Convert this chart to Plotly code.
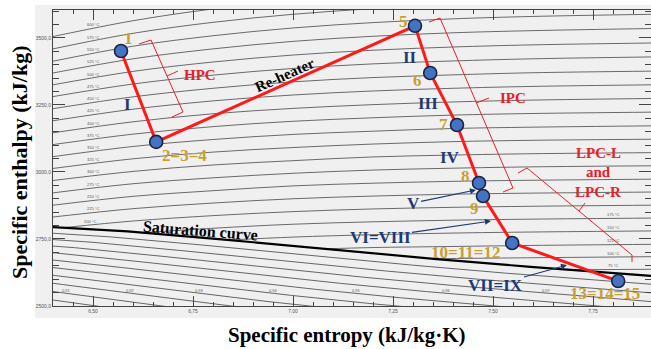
import numpy as np
import plotly.graph_objects as go

# ---------------- data ----------------
STATE_NAMES = ["1", "2=3=4", "5", "6", "7", "8", "9", "10=11=12", "13=14=15"]
STATE_S = [6.570, 6.658, 7.305, 7.343, 7.410, 7.465, 7.475, 7.548, 7.813]
STATE_H = [3451, 3112, 3545, 3369, 3175, 2959, 2910, 2735, 2593]

# saturation table (pressure MPa, hf, hfg, sf, sfg)
SAT_P = [2.0, 1.0, 0.5, 0.2, 0.1, 0.05, 0.02, 0.01]
SAT_HF = [908.8, 762.8, 640.2, 504.7, 417.5, 340.5, 251.4, 191.8]
SAT_HFG = [1890.7, 2015.3, 2108.5, 2201.9, 2257.5, 2305.4, 2358.3, 2392.8]
SAT_SF = [2.4474, 2.1387, 1.8607, 1.5301, 1.3028, 1.0910, 0.8320, 0.6493]
SAT_SFG = [3.8935, 4.4478, 4.9606, 5.5970, 6.0562, 6.5029, 7.0766, 7.5009]
QUALITIES = [0.90, 0.91, 0.92, 0.93, 0.94, 0.95, 0.96, 0.97, 0.98, 0.99]

# isotherms: enthalpy at entropy stations
ISO_S = [6.40, 6.60, 6.80, 7.00, 7.20, 7.40, 7.60, 7.90]
ISO_T = [600, 575, 550, 525, 500, 475, 450, 425, 400, 375, 350, 325,
         300, 275, 250, 225, 200, 175, 150, 125, 100, 75]
ISO_H = [
    [3505, 3564, 3608, 3639, 3661, 3677, 3687, 3697],
    [3459, 3517, 3558, 3588, 3609, 3624, 3634, 3643],
    [3413, 3469, 3508, 3537, 3557, 3571, 3580, 3588],
    [3369, 3422, 3459, 3487, 3506, 3519, 3527, 3535],
    [3325, 3375, 3410, 3436, 3454, 3466, 3474, 3481],
    [3281, 3328, 3361, 3386, 3403, 3414, 3422, 3429],
    [3236, 3280, 3312, 3336, 3352, 3362, 3370, 3376],
    [3191, 3234, 3265, 3287, 3302, 3312, 3319, 3325],
    [3146, 3187, 3217, 3237, 3251, 3261, 3268, 3274],
    [3102, 3141, 3169, 3189, 3202, 3212, 3218, 3223],
    [3057, 3095, 3121, 3140, 3152, 3162, 3167, 3172],
    [3013, 3049, 3074, 3091, 3104, 3113, 3118, 3122],
    [2968, 3002, 3026, 3042, 3056, 3063, 3068, 3072],
    [2922, 2956, 2978, 2995, 3007, 3014, 3019, 3023],
    [2876, 2909, 2930, 2948, 2958, 2965, 2969, 2973],
    [2832, 2863, 2884, 2900, 2910, 2917, 2921, 2925],
    [None, 2817, 2837, 2852, 2862, 2868, 2872, 2876],
    [None, None, 2790, 2805, 2814, 2820, 2824, 2828],
    [None, None, None, 2757, 2766, 2772, 2776, 2780],
    [None, None, None, None, 2718, 2722, 2726, 2730],
    [None, None, None, None, None, 2677, 2680, 2684],
    [None, None, None, None, None, None, None, 2637],
]
ISO_START_S = [None] * 16 + [6.432, 6.624, 6.838, 7.078, 7.355, 7.683]
ISO_START_H = [None] * 16 + [2793, 2773, 2746, 2713, 2676, 2635]

# ---------------- layout constants ----------------
X0, X1 = 6.40, 7.895
Y0, Y1 = 2500, 3604
PL, PT, PW, PH = 53, 10, 598, 296
W, H = 651, 349


def sx(px):
    return X0 + (px - PL) / PW * (X1 - X0)


def hy(py):
    return Y0 + (PT + PH - py) / PH * (Y1 - Y0)


GOLD = "#c9a030"
NAVY = "#1f3a70"
RED = "#e8202a"
SERIF = "Liberation Serif"

fig = go.Figure()

# quality lines
hf = np.array(SAT_HF); hfg = np.array(SAT_HFG)
sf = np.array(SAT_SF); sfg = np.array(SAT_SFG)
for q in QUALITIES:
    qs = sf + q * sfg
    qh = hf + q * hfg
    fig.add_trace(go.Scatter(x=qs, y=qh, mode="lines",
                             line=dict(color="#555555", width=0.9),
                             hoverinfo="skip", showlegend=False))
    lvl = 2547
    s_lab = float(np.interp(lvl, qh[::-1], qs[::-1]))
    if X0 + 0.01 < s_lab < X1 - 0.02:
        fig.add_annotation(x=s_lab, y=lvl, text=f"{q:.2f}".replace(".", ","),
                           showarrow=False, yshift=3,
                           font=dict(family="Liberation Sans", size=4, color="#555"))

# isotherms
for T, hs, s0, h0 in zip(ISO_T, ISO_H, ISO_START_S, ISO_START_H):
    xs, ys = [], []
    if s0 is not None:
        xs.append(s0); ys.append(h0)
    for s, h in zip(ISO_S, hs):
        if h is not None:
            xs.append(s); ys.append(h)
    fig.add_trace(go.Scatter(x=xs, y=ys, mode="lines", line_shape="spline",
                             line=dict(color="#5a5a5a", width=0.9),
                             hoverinfo="skip", showlegend=False))
    if s0 is None:
        s_lab = 6.50
    elif s0 < 6.5:
        s_lab = s0 + 0.06
    else:
        s_lab = 7.80
    h_lab = float(np.interp(s_lab, xs, ys))
    if h_lab < Y1 - 10:
        fig.add_annotation(x=s_lab, y=h_lab, text=f"{T} °C", showarrow=False,
                           yshift=4, font=dict(family="Liberation Sans", size=4, color="#555"))

# saturation curve
sat_s = sf + sfg
sat_h = hf + hfg
fig.add_trace(go.Scatter(x=sat_s, y=sat_h, mode="lines",
                         line=dict(color="black", width=2.2),
                         hoverinfo="skip", showlegend=False))


# brackets (decorations, pixel space)
def bracket(pts):
    fig.add_trace(go.Scatter(x=[sx(p[0]) for p in pts], y=[hy(p[1]) for p in pts],
                             mode="lines", line=dict(color=RED, width=1),
                             hoverinfo="skip", showlegend=False, cliponaxis=False))


bracket([(139, 44), (151, 40), (183, 112), (172, 117)])
bracket([(167, 76), (178, 71)])
bracket([(429, 22), (440, 18), (513, 188), (503, 192)])
bracket([(476, 103), (489, 98)])
bracket([(518, 173), (527, 168), (632, 255), (632, 262)])
bracket([(579, 211), (585, 203)])

# process line
fig.add_trace(go.Scatter(x=STATE_S, y=STATE_H, mode="lines+markers",
                         line=dict(color="#ff1a1a", width=3),
                         marker=dict(size=13, color="#4472c4",
                                     line=dict(color="#1b2540", width=1.6)),
                         hoverinfo="skip", showlegend=False, cliponaxis=False))


def txt(text, px, py, color, size, angle=0):
    fig.add_annotation(x=sx(px), y=hy(py), text=text, showarrow=False,
                       textangle=angle,
                       font=dict(family=SERIF, size=size, color=color, weight="bold"))


def arrow(text, tx, ty, hx, hyp, size=17):
    fig.add_annotation(x=sx(hx), y=hy(hyp), ax=tx - hx, ay=ty - hyp,
                       text=text, showarrow=True, arrowhead=2, arrowsize=1.1,
                       arrowwidth=1.1, arrowcolor=NAVY, standoff=0,
                       font=dict(family=SERIF, size=size, color=NAVY, weight="bold"))


# gold state labels
GOLD_POS = [(128, 38), (184, 155), (403, 21), (417, 80), (443, 124),
            (465, 176), (474, 208), (465, 252), (605, 293)]
for name, (px, py) in zip(STATE_NAMES, GOLD_POS):
    txt(name, px, py, GOLD, 17)

# stage numerals
txt("I", 127, 104, NAVY, 17)
txt("II", 410, 57, NAVY, 17)
txt("III", 428, 103, NAVY, 17)
txt("IV", 450, 157, NAVY, 17)
arrow("V", 413, 203, 476, 190)
arrow("VI=VIII", 380, 237, 491, 221)
arrow("VII=IX", 495, 285, 567, 265)

# red component labels
txt("HPC", 200, 75, RED, 15)
txt("IPC", 513, 98, RED, 15)
txt("LPC-L", 598, 153, RED, 15)
txt("and", 598, 172, RED, 15)
txt("LPC-R", 598, 192, RED, 15)

# black labels
txt("Re-heater", 285, 75, "black", 15, angle=-24)
txt("Saturation curve", 200, 230, "black", 16, angle=4.5)

# axis titles
fig.add_annotation(xref="paper", yref="paper", x=(19 - PL) / PW, y=(PT + PH - 163) / PH,
                   xanchor="center", yanchor="middle",
                   text="Specific enthalpy (kJ/kg)", textangle=-90, showarrow=False,
                   font=dict(family=SERIF, size=22, color="black", weight="bold"))
fig.add_annotation(xref="paper", yref="paper", x=(347 - PL) / PW, y=(PT + PH - 335) / PH,
                   xanchor="center", yanchor="middle",
                   text="Specific entropy (kJ/kg·K)", showarrow=False,
                   font=dict(family=SERIF, size=21, color="black", weight="bold"))

# gray panel behind plot
fig.add_shape(type="rect", xref="paper", yref="paper",
              x0=(35 - PL) / PW, x1=1.0, y0=(PT + PH - 318) / PH, y1=(PT + PH - 5) / PH,
              fillcolor="#f0f0f0", line=dict(width=0), layer="below")

axis_common = dict(showgrid=False, zeroline=False, showline=True, linecolor="#444",
                   linewidth=1, mirror="ticks", ticks="inside", tickcolor="#444",
                   tickwidth=1, tickfont=dict(family="Liberation Sans", size=5, color="#555"))
fig.update_xaxes(range=[X0, X1], tick0=6.5, dtick=0.25, tickformat=".2f", ticklen=10,
                 minor=dict(dtick=0.05, ticks="inside", ticklen=4, tickcolor="#444",
                            showgrid=False),
                 **axis_common)
fig.update_yaxes(range=[Y0, Y1], tick0=2500, dtick=250, tickformat=".1f", ticklen=12,
                 minor=dict(dtick=50, ticks="inside", ticklen=6, tickcolor="#444",
                            showgrid=False),
                 **axis_common)

fig.update_layout(width=W, height=H, margin=dict(l=PL, r=W - PL - PW, t=PT, b=H - PT - PH),
                  paper_bgcolor="white", plot_bgcolor="white", separators=",.",
                  showlegend=False)

fig.write_html("out.html", config={"displayModeBar": False},
               post_script="document.body.style.margin='0';document.body.style.padding='0';")
